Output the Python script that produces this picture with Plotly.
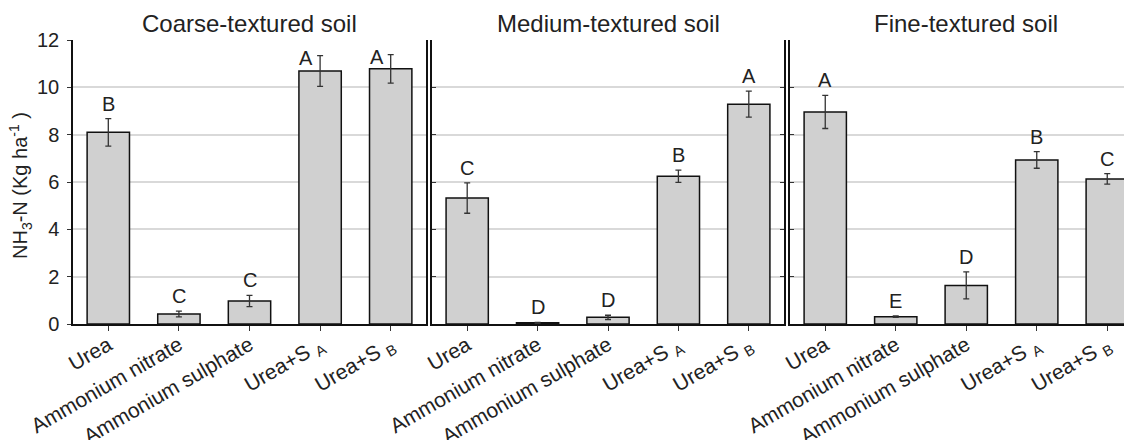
import plotly.graph_objects as go

# ---------------- data ----------------
categories = ["Urea", "Ammonium nitrate", "Ammonium sulphate", "Urea+S A", "Urea+S B"]
tick_labels = ["Urea", "Ammonium nitrate", "Ammonium sulphate",
               "Urea+S <sub>A</sub>", "Urea+S <sub>B</sub>"]
panel_titles = ["Coarse-textured soil", "Medium-textured soil", "Fine-textured soil"]

coarse = [8.10, 0.42, 0.97, 10.69, 10.78]
coarse_err = [0.58, 0.12, 0.24, 0.65, 0.60]
coarse_letters = ["B", "C", "C", "A", "A"]

medium = [5.32, 0.05, 0.28, 6.24, 9.29]
medium_err = [0.64, 0.02, 0.09, 0.26, 0.55]
medium_letters = ["C", "D", "D", "B", "A"]

fine = [8.96, 0.31, 1.63, 6.93, 6.13]
fine_err = [0.70, 0.03, 0.57, 0.35, 0.22]
fine_letters = ["A", "E", "D", "B", "C"]

y_ticks = [0, 2, 4, 6, 8, 10, 12]

# ---------------- figure ----------------
OFF = 8  # default page margin around the plot div
W, H = 1132 - OFF, 440 - OFF
ML, MR, MT = 73 - OFF, 0, 40 - OFF
MB = H - (324 - OFF)
PW = W - ML - MR

def dom(a, b):
    return [max(0, (a - OFF - ML) / PW), min(1, (b - OFF - ML) / PW)]

domains = [dom(73, 426), dom(432, 784), dom(790, 1132)]
xranges = [[-0.5, 4.5], [-0.5, 4.5], [-0.5, -0.5 + 342 / 70.5]]

FONT = "Liberation Sans, Arial, sans-serif"
TXT = "#222222"

series = [(coarse, coarse_err, coarse_letters),
          (medium, medium_err, medium_letters),
          (fine, fine_err, fine_letters)]

fig = go.Figure()
xs = list(range(len(categories)))
annotations = []

for i, (vals, errs, lets) in enumerate(series):
    xa = "x" if i == 0 else f"x{i+1}"
    ya = "y" if i == 0 else f"y{i+1}"
    fig.add_trace(go.Bar(
        x=xs, y=vals, width=0.6,
        marker=dict(color="#d0d0d0", line=dict(color="#111111", width=1.5)),
        error_y=dict(type="data", array=errs, visible=True,
                     color="#333333", thickness=1.3, width=3),
        xaxis=xa, yaxis=ya, showlegend=False,
        hovertext=categories,
    ))
    for j, (v, e, l) in enumerate(zip(vals, errs, lets)):
        top = v + e
        if i == 0 and top > 11:
            annotations.append(dict(x=j, y=top, xref=xa, yref=ya, text=l,
                                    showarrow=False, xanchor="center", yanchor="middle",
                                    xshift=-14, yshift=-2,
                                    font=dict(family=FONT, size=20, color=TXT)))
        else:
            annotations.append(dict(x=j, y=top, xref=xa, yref=ya, text=l,
                                    showarrow=False, xanchor="center", yanchor="bottom",
                                    yshift=2,
                                    font=dict(family=FONT, size=20, color=TXT)))
    annotations.append(dict(x=2, y=1, xref=xa, yref="paper", text=panel_titles[i],
                            showarrow=False, xanchor="center", yanchor="bottom",
                            yshift=1,
                            font=dict(family=FONT, size=24, color=TXT)))

annotations.append(dict(x=0, y=0.5, xref="paper", yref="paper",
                        text="NH<sub>3</sub>-N (Kg ha<sup>-1</sup> )",
                        textangle=-90, showarrow=False, xanchor="center",
                        yanchor="middle", xshift=-53, yshift=-4,
                        font=dict(family=FONT, size=20, color=TXT)))

layout = dict(
    width=W, height=H,
    margin=dict(l=ML, r=MR, t=MT, b=MB, pad=0, autoexpand=False),
    paper_bgcolor="white", plot_bgcolor="white",
    font=dict(family=FONT, color=TXT),
    annotations=annotations,
    bargap=0.4,
)

for i in range(3):
    sfx = "" if i == 0 else str(i + 1)
    layout[f"xaxis{sfx}"] = dict(
        domain=domains[i], range=xranges[i], anchor=f"y{sfx}",
        tickvals=xs, ticktext=tick_labels, tickangle=-30,
        ticks="outside", ticklen=5, tickcolor="#333333", tickwidth=1,
        showline=True, linecolor="#111111", linewidth=1.5,
        showgrid=False, zeroline=False, automargin=False,
        tickfont=dict(family=FONT, size=21, color=TXT),
        ticklabelstandoff=-6,
        fixedrange=True,
    )
    ydict = dict(
        domain=[0, 1], range=[0, 12], anchor=f"x{sfx}",
        tickvals=y_ticks,
        showline=True, linecolor="#111111", linewidth=1.5,
        showgrid=True, gridcolor="#d9d9d9", gridwidth=1.5,
        zeroline=False, automargin=False,
        tickfont=dict(family=FONT, size=20, color=TXT),
        fixedrange=True,
    )
    if i == 0:
        ydict.update(ticks="outside", ticklen=4, tickcolor="#333333",
                     showticklabels=True, mirror=True, ticklabelstandoff=4)
    else:
        ydict.update(ticks="inside", ticklen=4, tickcolor="#333333",
                     showticklabels=False, mirror=("ticks" if i == 1 else False))
    layout[f"yaxis{sfx}"] = ydict

fig.update_layout(**layout)
fig.write_html("out.html")
